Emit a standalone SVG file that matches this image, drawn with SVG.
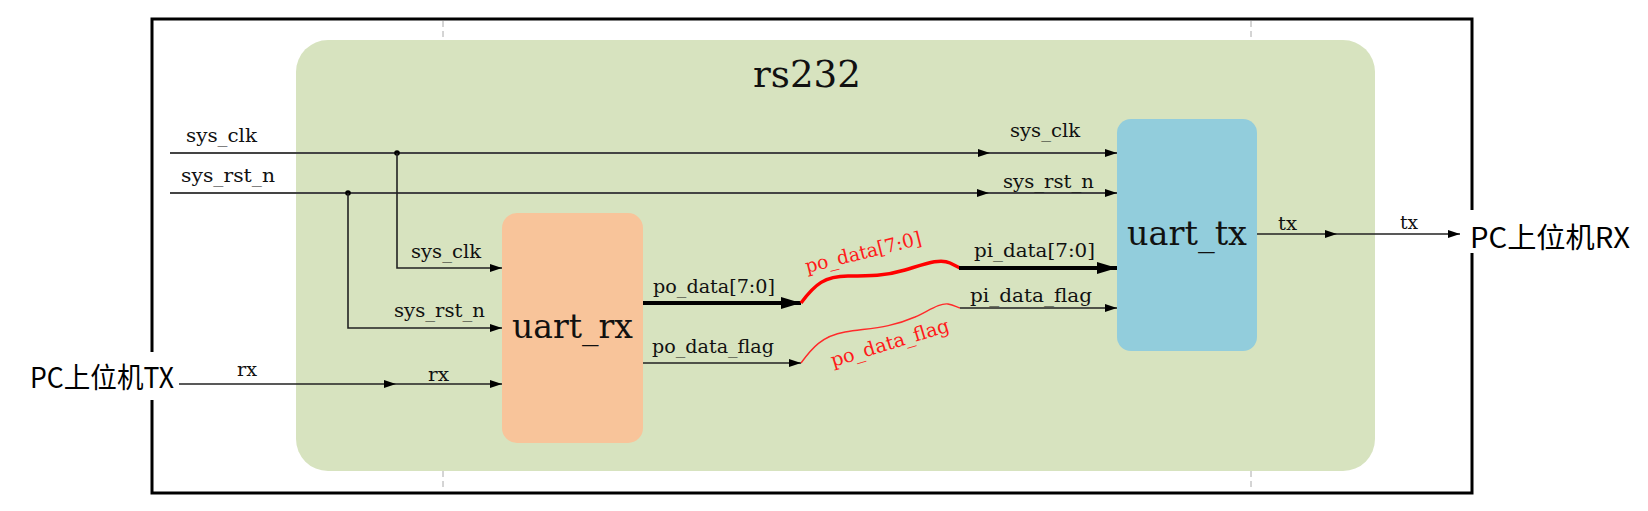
<svg xmlns="http://www.w3.org/2000/svg" width="1648" height="511" viewBox="0 0 1648 511">
<style>
.lbl{font-family:"DejaVu Serif","Liberation Serif",serif;font-size:19px;fill:#111}
.red{font-family:"DejaVu Serif","Liberation Serif",serif;font-size:19px;fill:#ff1a1a}
.big{font-family:"DejaVu Serif","Liberation Serif",serif;font-size:33px;fill:#111}
.title{font-family:"DejaVu Serif","Liberation Serif",serif;font-size:37px;fill:#111}
.pc{font-family:"Noto Sans CJK SC","Noto Sans",sans-serif;font-size:28px;fill:#000}
.w{fill:none;stroke:#222;stroke-width:1.6}
.wg{fill:none;stroke:#444;stroke-width:2}
.thick{fill:none;stroke:#000;stroke-width:4}
.dash{fill:none;stroke:#aaa;stroke-width:1;stroke-dasharray:6 4}
</style>
<defs>
<marker id="arr" markerUnits="userSpaceOnUse" markerWidth="13" markerHeight="9" refX="12" refY="4" orient="auto">
<path d="M0,0 L12,4 L0,8 z" fill="#000"/>
</marker>
<marker id="arrT" markerUnits="userSpaceOnUse" markerWidth="21" markerHeight="13" refX="20" refY="6" orient="auto">
<path d="M0,0 L20,6 L0,12 z" fill="#000"/>
</marker>
</defs>
<rect width="1648" height="511" fill="#fff"/>
<g id="frame">
<rect x="152" y="19" width="1320" height="474" fill="none" stroke="#000" stroke-width="3"/>
<path class="dash" d="M443,21 L443,40 M443,471 L443,491 M1251,21 L1251,40 M1251,471 L1251,491"/>
</g>
<g id="rs232">
<rect x="296" y="40" width="1079" height="431" rx="32" fill="#d7e3bf"/>
<text class="title" x="753" y="87" textLength="108" lengthAdjust="spacingAndGlyphs">rs232</text>
</g>
<g id="uart_rx">
<rect x="502" y="213" width="141" height="230" rx="15" fill="#f8c49a"/>
<text class="big" x="512" y="338" textLength="121" lengthAdjust="spacingAndGlyphs">uart_rx</text>
</g>
<g id="uart_tx">
<rect x="1117" y="119" width="140" height="232" rx="14" fill="#92cddc"/>
<text class="big" x="1127" y="245" textLength="120" lengthAdjust="spacingAndGlyphs">uart_tx</text>
</g>
<g id="pc_tx">
<rect x="146" y="352" width="12" height="48" fill="#fff"/>
<text class="pc" x="30" y="388" textLength="144" lengthAdjust="spacingAndGlyphs">PC上位机TX</text>
</g>
<g id="pc_rx">
<rect x="1466" y="210" width="12" height="43" fill="#fff"/>
<text class="pc" x="1470" y="248" textLength="160" lengthAdjust="spacingAndGlyphs">PC上位机RX</text>
</g>
<g id="connectors">
<path class="wg" d="M170,153 L990,153" marker-end="url(#arr)"/>
<path class="wg" d="M990,153 L1117,153" marker-end="url(#arr)"/>
<path class="wg" d="M170,193 L989,193" marker-end="url(#arr)"/>
<path class="wg" d="M989,193 L1117,193" marker-end="url(#arr)"/>
<circle cx="397" cy="153" r="2.8" fill="#000"/>
<circle cx="348" cy="193" r="2.8" fill="#000"/>
<path class="w" d="M397,153 L397,268 L502,268" marker-end="url(#arr)"/>
<path class="w" d="M348,193 L348,328 L502,328" marker-end="url(#arr)"/>
<path class="w" d="M179,384 L396,384" marker-end="url(#arr)"/>
<path class="w" d="M396,384 L502,384" marker-end="url(#arr)"/>
<path class="thick" d="M643,303 L801,303" marker-end="url(#arrT)"/>
<path d="M801,303 C815,284 825,276 848,276 C870,276 885,276 905,270 C925,264 940,258 950,263 L960,268" fill="none" stroke="#ff0000" stroke-width="3.5"/>
<path class="thick" d="M959,268 L1117,268" marker-end="url(#arrT)"/>
<path class="w" d="M643,363 L801,363" marker-end="url(#arr)"/>
<path d="M801,363 C812,348 822,336 845,332 C870,328 890,328 915,317 C930,310 940,303 948,304 C953,305 957,307 960,308" fill="none" stroke="#ff2a2a" stroke-width="1.4"/>
<path class="w" d="M960,308 L1117,308" marker-end="url(#arr)"/>
<path class="w" d="M1257,234 L1337,234" marker-end="url(#arr)"/>
<path class="w" d="M1337,234 L1460,234" marker-end="url(#arr)"/>
</g>
<g id="labels">
<text class="lbl" x="186" y="142" textLength="71" lengthAdjust="spacingAndGlyphs">sys_clk</text>
<text class="lbl" x="181" y="182" textLength="94" lengthAdjust="spacingAndGlyphs">sys_rst_n</text>
<text class="lbl" x="1010" y="137" textLength="70" lengthAdjust="spacingAndGlyphs">sys_clk</text>
<text class="lbl" x="1003" y="188" textLength="91" lengthAdjust="spacingAndGlyphs">sys_rst_n</text>
<text class="lbl" x="411" y="258" textLength="70" lengthAdjust="spacingAndGlyphs">sys_clk</text>
<text class="lbl" x="394" y="317" textLength="91" lengthAdjust="spacingAndGlyphs">sys_rst_n</text>
<text class="lbl" x="237" y="376" textLength="20" lengthAdjust="spacingAndGlyphs">rx</text>
<text class="lbl" x="428" y="381" textLength="21" lengthAdjust="spacingAndGlyphs">rx</text>
<text class="lbl" x="653" y="293" textLength="122" lengthAdjust="spacingAndGlyphs">po_data[7:0]</text>
<text class="lbl" x="652" y="353" textLength="122" lengthAdjust="spacingAndGlyphs">po_data_flag</text>
<text class="lbl" x="974" y="257" textLength="121" lengthAdjust="spacingAndGlyphs">pi_data[7:0]</text>
<text class="lbl" x="970" y="302" textLength="122" lengthAdjust="spacingAndGlyphs">pi_data_flag</text>
<text class="lbl" x="1278" y="230" textLength="19" lengthAdjust="spacingAndGlyphs">tx</text>
<text class="lbl" x="1400" y="229" textLength="18" lengthAdjust="spacingAndGlyphs">tx</text>
<text class="red" transform="translate(807,273) rotate(-14)" textLength="119" lengthAdjust="spacingAndGlyphs">po_data[7:0]</text>
<text class="red" transform="translate(833,367) rotate(-17)" textLength="123" lengthAdjust="spacingAndGlyphs">po_data_flag</text>
</g>
</svg>
